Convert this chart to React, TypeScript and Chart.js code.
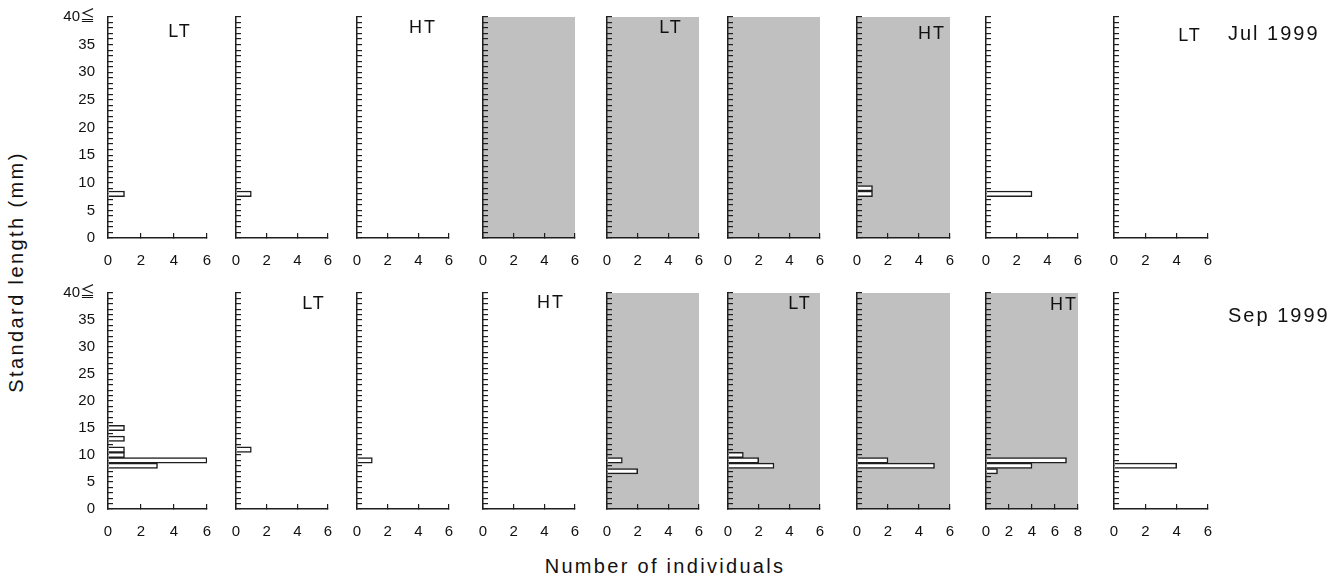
import React, { useEffect, useRef } from "react";
import { Chart, registerables } from "chart.js";

Chart.register(...registerables);

// ---------- data ----------
const LENGTH_TICKS = [0, 5, 10, 15, 20, 25, 30, 35, 40];
const LENGTH_TICK_LABELS = ["0", "5", "10", "15", "20", "25", "30", "35", "40≦"];

// Jul 1999 row: length bins (mm) and counts per panel
const JUL_BINS: number[][] = [[8], [8], [], [], [], [], [8, 9], [8], []];
const JUL_COUNTS: number[][] = [[1], [1], [], [], [], [], [1, 1], [3], []];
const JUL_TAGS = ["LT", "", "HT", "", "LT", "", "HT", "", "LT"];
const JUL_SHADED = [false, false, false, true, true, true, true, false, false];
const JUL_XMAX = [6, 6, 6, 6, 6, 6, 6, 6, 6];

// Sep 1999 row
const SEP_BINS: number[][] = [[8, 9, 10, 11, 13, 15], [11], [9], [], [7, 9], [8, 9, 10], [8, 9], [7, 8, 9], [8]];
const SEP_COUNTS: number[][] = [[3, 6, 1, 1, 1, 1], [1], [1], [], [2, 1], [3, 2, 1], [5, 2], [1, 4, 7], [4]];
const SEP_TAGS = ["", "LT", "", "HT", "", "LT", "", "HT", ""];
const SEP_SHADED = [false, false, false, false, true, true, true, true, false];
const SEP_XMAX = [6, 6, 6, 6, 6, 6, 6, 8, 6];

// ---------- layout ----------
const PANEL_X = [108, 236, 357, 483, 607, 728, 857, 986, 1114];
const PANEL_W = [99, 92, 92, 92, 92, 92, 93, 92, 94];
const ROW_TOP = [17, 293];
const ROW_BOTTOM = [238, 509];
const TAG_POS = [
  [[180, 31], null, [423, 27], null, [671, 27], null, [932, 33], null, [1190, 35]],
  [null, [314, 303], null, [551, 302], null, [800, 303], null, [1064, 304], null],
];

const L = 45;
const R = 32;
const T = 32;
const B = 40;
const FONT = "'Liberation Sans', Arial, 'Noto Sans CJK JP', sans-serif";
const INK = "#1e1e1e";

type PanelProps = {
  x0: number;
  w: number;
  top: number;
  bottom: number;
  bins: number[];
  counts: number[];
  shaded: boolean;
  xmax: number;
  showY: boolean;
};

function Panel({ x0, w, top, bottom, bins, counts, shaded, xmax, showY }: PanelProps) {
  const ref = useRef<HTMLCanvasElement>(null);
  const h = bottom - top;
  const cw = L + w + R;
  const ch = T + h + B;

  useEffect(() => {
    const shadePlugin = {
      id: "shade",
      beforeDraw(chart: any) {
        if (!shaded) return;
        const { ctx, chartArea: a } = chart;
        ctx.save();
        ctx.fillStyle = "#c0c0c0";
        ctx.fillRect(a.left, a.top, a.right - a.left, a.bottom - a.top);
        ctx.restore();
      },
    };
    const chart = new Chart(ref.current as HTMLCanvasElement, {
      type: "bar",
      data: {
        datasets: [
          {
            data: bins.map((b, i) => ({ x: counts[i], y: b })),
            backgroundColor: "#ffffff",
            borderColor: INK,
            borderWidth: 1.5,
            barPercentage: 1,
            categoryPercentage: 1,
          },
        ],
      },
      options: {
        indexAxis: "y",
        responsive: false,
        maintainAspectRatio: false,
        animation: false,
        layout: { padding: { top: T, right: R, left: 0, bottom: 0 } },
        plugins: {
          legend: { display: false },
          tooltip: { enabled: false },
          title: { display: false },
        },
        scales: {
          x: {
            type: "linear",
            position: "bottom",
            min: 0,
            max: xmax,
            afterFit: (s: any) => {
              s.height = B;
            },
            border: { display: true, color: INK, width: 1.5 },
            grid: { drawOnChartArea: false, drawTicks: true, tickLength: -5, color: INK, lineWidth: 1.2 },
            ticks: {
              stepSize: 2,
              padding: 19,
              color: "#111",
              font: { family: FONT, size: 15 },
              maxRotation: 0,
            },
          },
          y: {
            type: "linear",
            position: "left",
            min: 0,
            max: 40,
            offset: false,
            afterFit: (s: any) => {
              s.width = L;
            },
            border: { display: true, color: INK, width: 1.5 },
            grid: { offset: false, drawOnChartArea: false, drawTicks: true, tickLength: -5, color: INK, lineWidth: 1.2 },
            ticks: {
              display: showY,
              stepSize: 1,
              autoSkip: false,
              padding: 18,
              color: "#111",
              font: { family: FONT, size: 15 },
              callback: (v: any) => {
                const idx = LENGTH_TICKS.indexOf(Number(v));
                return idx >= 0 ? LENGTH_TICK_LABELS[idx] : "";
              },
            },
          },
        },
      },
      plugins: [shadePlugin],
    } as any);
    return () => chart.destroy();
  }, []);

  return (
    <canvas
      ref={ref}
      width={cw}
      height={ch}
      style={{ position: "absolute", left: x0 - L, top: top - T, width: cw, height: ch, display: "block" }}
    />
  );
}

const textBase: React.CSSProperties = {
  position: "absolute",
  fontFamily: FONT,
  color: "#111",
  whiteSpace: "nowrap",
  lineHeight: 1,
};

export default function App() {
  const rows = [
    { bins: JUL_BINS, counts: JUL_COUNTS, shaded: JUL_SHADED, xmax: JUL_XMAX, tags: JUL_TAGS },
    { bins: SEP_BINS, counts: SEP_COUNTS, shaded: SEP_SHADED, xmax: SEP_XMAX, tags: SEP_TAGS },
  ];
  return (
    <div style={{ position: "absolute", left: 0, top: 0, width: 1333, height: 577, overflow: "hidden", background: "#fff" }}>
      {rows.map((row, r) =>
        PANEL_X.map((x0, i) => (
          <Panel
            key={`${r}-${i}`}
            x0={x0}
            w={PANEL_W[i]}
            top={ROW_TOP[r]}
            bottom={ROW_BOTTOM[r]}
            bins={row.bins[i]}
            counts={row.counts[i]}
            shaded={row.shaded[i]}
            xmax={row.xmax[i]}
            showY={i === 0}
          />
        ))
      )}
      {rows.map((row, r) =>
        row.tags.map((tag, i) => {
          const p = TAG_POS[r][i];
          if (!tag || !p) return null;
          return (
            <div
              key={`tag-${r}-${i}`}
              style={{
                ...textBase,
                left: p[0],
                top: p[1],
                fontSize: 18,
                letterSpacing: 2,
                transform: "translate(-50%, -50%)",
              }}
            >
              {tag}
            </div>
          );
        })
      )}
      <div style={{ ...textBase, left: 1228, top: 33, fontSize: 20, letterSpacing: 2, transform: "translateY(-50%)" }}>
        Jul 1999
      </div>
      <div style={{ ...textBase, left: 1228, top: 315, fontSize: 20, letterSpacing: 2, transform: "translateY(-50%)" }}>
        Sep 1999
      </div>
      <div
        style={{
          ...textBase,
          left: 16,
          top: 272,
          fontSize: 20,
          letterSpacing: 2.4,
          transform: "translate(-50%, -50%) rotate(-90deg)",
        }}
      >
        Standard length (mm)
      </div>
      <div
        style={{
          ...textBase,
          left: 665,
          top: 566,
          fontSize: 20,
          letterSpacing: 2.3,
          transform: "translate(-50%, -50%)",
        }}
      >
        Number of individuals
      </div>
    </div>
  );
}
